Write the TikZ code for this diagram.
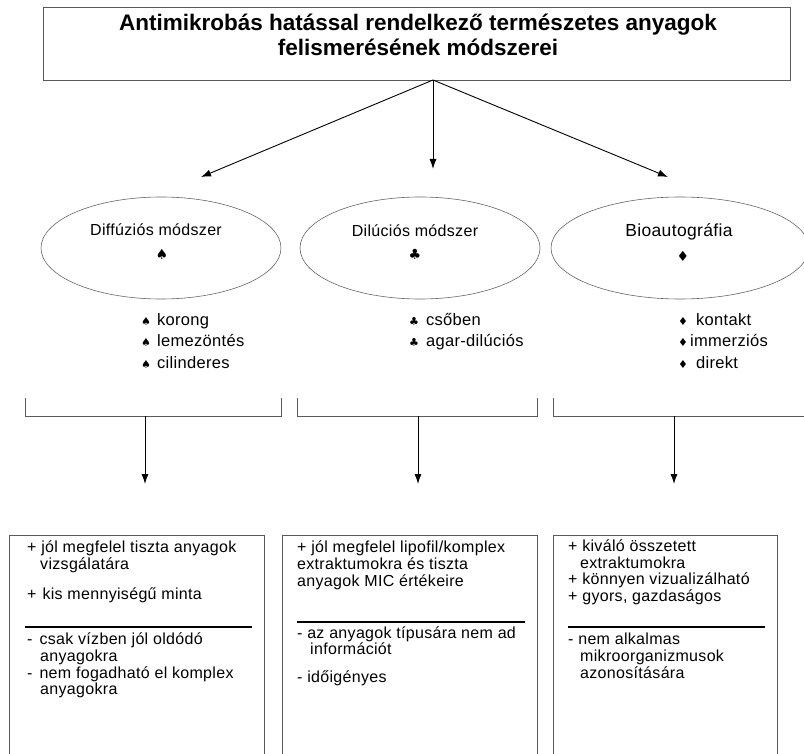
\documentclass[tikz,border=0pt]{standalone}
\usepackage{fontspec}
\setmainfont{Liberation Sans}
\newfontfamily\boxfont{Liberation Sans}[LetterSpace=2]
\newfontfamily\symfont{DejaVu Sans}
\usetikzlibrary{shapes.geometric,arrows.meta}

\newcommand\spd{{\symfont\fontsize{11}{11}\selectfont ♠}}
\newcommand\clb{{\symfont\fontsize{11}{11}\selectfont ♣}}
\newcommand\dmd{{\symfont\fontsize{11}{11}\selectfont ♦}}

\begin{document}
\begin{tikzpicture}[x=1pt,y=-1pt,
    titlebox/.style={draw=black!65, line width=0.8pt, minimum width=747pt, minimum height=73pt, inner sep=0pt},
    titletext/.style={font=\bfseries\fontsize{22.5}{25}\selectfont, align=center, inner sep=0pt},
    oval/.style={ellipse, draw=black!60, line width=0.6pt, minimum width=240pt, minimum height=102pt, inner sep=0pt},
    lbl/.style={inner sep=0pt, font=\boxfont\fontsize{16}{19}\selectfont},
    sym/.style={inner sep=0pt, font=\symfont\fontsize{14}{14}\selectfont},
    item/.style={anchor=base west, inner sep=0pt, font=\boxfont\fontsize{16.5}{18}\selectfont},
    btxt/.style={anchor=base west, inner sep=0pt, font=\boxfont\fontsize{16}{17}\selectfont},
    bracket/.style={draw=black!65, line width=0.8pt},
    probox/.style={draw=black!65, line width=0.8pt, anchor=north west, minimum height=240pt, inner sep=0pt},
    sep/.style={line width=1.1pt},
    arr/.style={line width=0.9pt, -{Latex[length=10pt,width=7pt]}}]

    \path[use as bounding box] (0,0) rectangle (804,754);
    \clip (0,0) rectangle (804,754);

    \node[titlebox] (title) at (416.5,43.5) {};
    \node[titletext] (titletext) at (418,35) {Antimikrobás hatással rendelkező természetes anyagok\\felismerésének módszerei};

    \node[oval] (diff) at (161,248) {};
    \node[oval] (dil) at (420,248) {};
    \node[oval, minimum width=258pt] (bio) at (680,248) {};
    \node[lbl] (difftxt) at (156,230) {Diffúziós módszer};
    \node[lbl] (diltxt) at (415,231) {Dilúciós módszer};
    \node[lbl, font=\boxfont\fontsize{17.5}{20}\selectfont] (biotxt) at (679,232) {Bioautográfia};
    \node[sym] (diffsym) at (162,254) {♠};
    \node[sym] (dilsym) at (415,254) {♣};
    \node[sym] (biosym) at (683,256) {♦};

    \coordinate (fork) at (433,80);
    \coordinate (difftip) at (201,177);
    \coordinate (diltip) at (433,169);
    \coordinate (biotip) at (668,177);
    \draw[arr] (fork) -- (difftip);
    \draw[arr] (fork) -- (diltip);
    \draw[arr] (fork) -- (biotip);

    \node[item] (k1) at (141,326) {\spd\hspace{6pt}korong};
    \node[item] (k2) at (141,347) {\spd\hspace{6pt}lemezöntés};
    \node[item] (k3) at (141,368) {\spd\hspace{6pt}cilinderes};
    \node[item] (d1) at (409,326) {\clb\hspace{7pt}csőben};
    \node[item] (d2) at (409,347) {\clb\hspace{7pt}agar-dilúciós};
    \node[item] (b1) at (678,326) {\dmd\hspace{8pt}kontakt};
    \node[item] (b2) at (678,347) {\dmd\hspace{2pt}immerziós};
    \node[item] (b3) at (678,368) {\dmd\hspace{8pt}direkt};

    \draw[bracket] (25,398) |- (281,416) -- (281,398);
    \draw[bracket] (297,398) |- (537,416) -- (537,398);
    \draw[bracket] (553,398) |- (812,416) -- (812,398);

    \coordinate (br1) at (145,416);
    \coordinate (br2) at (418,416);
    \coordinate (br3) at (674,416);
    \coordinate (tip1) at (145,484);
    \coordinate (tip2) at (418,484);
    \coordinate (tip3) at (674,484);
    \draw[arr] (br1) -- (tip1);
    \draw[arr] (br2) -- (tip2);
    \draw[arr] (br3) -- (tip3);

    \node[probox, minimum width=255pt] (pro1) at (9,535) {};
    \node[probox, minimum width=255pt] (pro2) at (282,535) {};
    \node[probox, minimum width=224pt] (pro3) at (553,535) {};

    \node[btxt] (p1a) at (27,552) {+ jól megfelel tiszta anyagok};
    \node[btxt] (p1b) at (40,569) {vizsgálatára};
    \node[btxt] (p1c) at (27,599) {+\hspace{6pt}kis mennyiségű minta};
    \draw[sep] (25,627) -- (252,627);
    \node[btxt] (p1d) at (27,644) {-\hspace{7pt}csak vízben jól oldódó};
    \node[btxt] (p1e) at (40,661) {anyagokra};
    \node[btxt] (p1f) at (27,678) {-\hspace{7pt}nem fogadható el komplex};
    \node[btxt] (p1g) at (40,694) {anyagokra};

    \node[btxt] (p2a) at (297,552) {+ jól megfelel lipofil/komplex};
    \node[btxt] (p2b) at (297,569) {extraktumokra és tiszta};
    \node[btxt] (p2c) at (297,586) {anyagok MIC értékeire};
    \draw[sep] (297,622) -- (525,622);
    \node[btxt] (p2d) at (297,638) {- az anyagok típusára nem ad};
    \node[btxt] (p2e) at (310,654) {információt};
    \node[btxt] (p2f) at (297,682) {- időigényes};

    \node[btxt] (p3a) at (568,551) {+ kiváló összetett};
    \node[btxt] (p3b) at (580,568) {extraktumokra};
    \node[btxt] (p3c) at (568,584) {+ könnyen vizualizálható};
    \node[btxt] (p3d) at (568,601) {+ gyors, gazdaságos};
    \draw[sep] (568,627) -- (765,627);
    \node[btxt] (p3e) at (568,644) {- nem alkalmas};
    \node[btxt] (p3f) at (580,661) {mikroorganizmusok};
    \node[btxt] (p3g) at (580,678) {azonosítására};
\end{tikzpicture}
\end{document}
